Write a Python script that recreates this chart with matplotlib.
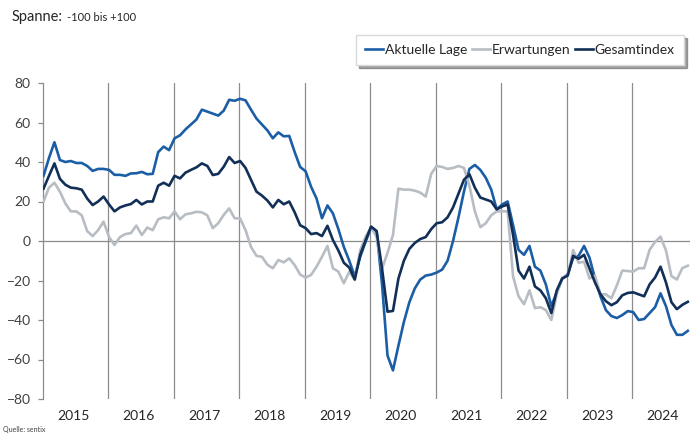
import matplotlib.pyplot as plt
import numpy as np

plt.rcParams['font.family'] = ['Lato', 'DejaVu Sans']

# sentix Konjunkturindex Euroraum, monthly Jan 2015 - Nov 2024
years = [2015, 2016, 2017, 2018, 2019, 2020, 2021, 2022, 2023, 2024]

aktuelle_lage = [
    33, 42, 50, 41, 40, 40.5, 39.5, 39.5, 38, 35.5, 36.5, 36.5,
    36, 33.5, 33.5, 33, 34.2, 34.3, 35, 33.8, 34, 45, 47.8, 46,
    52, 53.5, 56.5, 59, 61.5, 66.5, 65.5, 64.5, 63.5, 66, 71.5, 71,
    72, 71.2, 66.5, 62, 59, 56, 52, 55, 53, 53.2, 45, 37.5,
    35.3, 27.5, 21.5, 11.5, 18, 14, 6, -3, -10, -18, -8, -0.3,
    7, 5, -22, -58, -65.5, -53, -41, -31, -24, -19.5, -17.5, -17,
    -16, -14.5, -10, 0, 12, 25, 36.5, 38.5, 36, 32, 26, 16,
    18.5, 20, 8, -4.5, -7, -2.5, -13, -15, -22, -33, -26, -19,
    -17, -8.5, -7.5, -2.5, -8.5, -19, -28, -35, -38, -39, -37.5, -35.5,
    -36, -40, -39.5, -36.5, -33.5, -26.5, -33, -42.5, -47.5, -47.5, -45.5,
]

erwartungen = [
    20, 27, 29.5, 25, 19, 15, 15, 13, 5, 2.5, 5.5, 9.8,
    2, -2, 2, 3.5, 4, 7.8, 3, 6.8, 5.5, 11, 12, 11.5,
    15, 11, 13.5, 14, 14.8, 14.5, 13, 6.5, 9, 13.2, 16.5, 11.5,
    11.5, 5.5, -3, -7.5, -8, -12, -13.8, -9.6, -10.8, -8.8, -12.2, -17,
    -18.5, -17.2, -13, -8, -2.5, -13.8, -15.5, -21.4, -15.5, -19.7, -4.6, 2.2,
    7, 2, -14, -6, 3, 26.5, 26, 26, 25.5, 24.5, 22.5, 34,
    38, 37.5, 36.5, 37, 38, 37, 28, 15, 7, 9, 13, 15,
    15, 15, -18, -28, -32, -25, -34, -33.5, -35, -40, -27, -18.5,
    -17.5, -4.6, -11, -10.5, -19, -17.5, -27, -27, -29, -22.5, -15, -15.2,
    -15.5, -13.8, -13.8, -4.5, -0.5, 2.2, -4.8, -17.8, -19.5, -13.7, -12.5,
]

gesamtindex = [
    26.5, 33, 39.3, 31.5, 28.5, 27, 26.7, 26, 21.5, 18.2, 20, 22.5,
    18.5, 15, 17, 18, 18.7, 20.8, 18.5, 20, 20, 28, 29.5, 28,
    33, 31.7, 34.6, 36, 37.3, 39.3, 38, 33.4, 34, 37.6, 42.5, 39.5,
    40.5, 37, 31, 25, 23, 20.5, 17, 20.8, 18.6, 20, 14.5, 8,
    6.5, 3.5, 4, 2.5, 7.7, 0.5, -4.8, -11, -13.5, -19.5, -7, 0.5,
    7.3, 5, -14, -35.8, -35.4, -19, -10, -4, -1, 1, 2, 6,
    9, 9.5, 12, 17, 24, 31, 33.8, 27, 22, 21, 20, 16,
    17.5, 18.5, 3, -15, -19, -13, -23, -25, -29, -36.5, -25, -19,
    -17.5, -7.5, -9, -7, -14, -21, -27, -30.5, -32.5, -31, -27.5, -26.3,
    -26, -27, -28, -22, -18.5, -13, -21, -31, -34.5, -32.3, -30.8,
]

months = np.arange(len(aktuelle_lage))

fig = plt.figure(figsize=(6.9, 4.34), dpi=100)
ax = fig.add_axes([42.7 / 690, 1 - 399 / 434, 1 - 42.7 / 690, (399 - 83) / 434])

grid_col = '#8c8c8c'
# year separators and zero line
for k in range(1, len(years)):
    ax.axvline(12 * k - 0.15, color=grid_col, lw=0.9, zorder=1)
ax.axhline(0, color=grid_col, lw=0.9, zorder=1)

ax.plot(months, aktuelle_lage, color='#1c5ea6', lw=1.9, label='Aktuelle Lage', zorder=3)
ax.plot(months, erwartungen, color='#b7bdc3', lw=1.9, label='Erwartungen', zorder=3)
ax.plot(months, gesamtindex, color='#112f57', lw=1.9, label='Gesamtindex', zorder=3)

ax.set_xlim(-0.15, 118.4)
ax.set_ylim(-80, 80)

for side in ['top', 'right', 'bottom']:
    ax.spines[side].set_visible(False)
ax.spines['left'].set_color(grid_col)
ax.spines['left'].set_linewidth(0.9)

ax.set_yticks(range(-80, 81, 20))
ax.tick_params(axis='y', length=3.6, width=0.9, color=grid_col, labelsize=10,
               labelcolor='#404040', pad=5)

ax.set_xticks([12 * k + 5.4 for k in range(len(years))], labels=[str(y) for y in years])
ax.tick_params(axis='x', length=0, labelsize=10, labelcolor='#262626', pad=8)

leg = fig.legend(loc='upper right', bbox_to_anchor=(688 / 690, 1 - 31 / 434), ncol=3,
                 frameon=True, shadow=True, fancybox=False, edgecolor='#d9d9d9',
                 fontsize=10, handlelength=1.3, handletextpad=0.12,
                 columnspacing=0.35, borderpad=0.65, borderaxespad=0.3)
for t in leg.get_texts():
    t.set_color('#262626')

fig.text(12 / 690, 1 - 21 / 434, 'Spanne:', fontsize=10.5, color='#262626', va='baseline')
fig.text(67 / 690, 1 - 21 / 434, '-100 bis +100', fontsize=8, color='#262626', va='baseline')
fig.text(3 / 690, 1 - 432 / 434, 'Quelle: sentix', fontsize=5, color='#404040', va='baseline')

fig.savefig('out.png', dpi=100)
